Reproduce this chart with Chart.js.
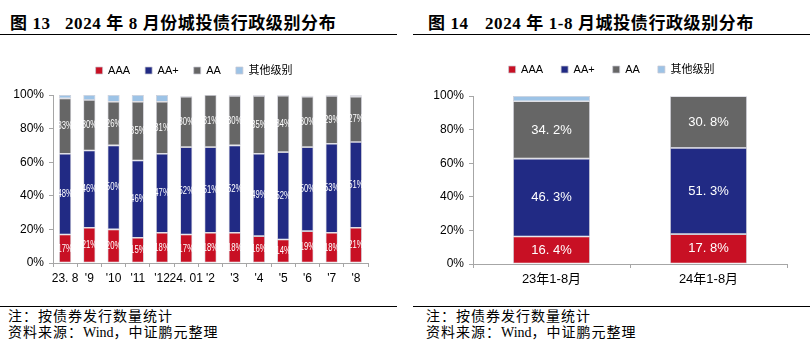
<!DOCTYPE html>
<html>
<head>
<meta charset="utf-8">
<script src="https://cdn.jsdelivr.net/npm/chart.js@4.4.1/dist/chart.umd.min.js"></script>
<style>
  body { margin: 0; width: 810px; height: 350px; background: #fff; position: relative; overflow: hidden; }
  .title { position: absolute; top: 9px; font: bold 17px "Liberation Serif", "Noto Sans CJK SC", serif; letter-spacing: 0.6px; color: #000; white-space: pre; }
  .rule { position: absolute; height: 0; border-top: 1.5px solid #000; }
  .note { position: absolute; font: 14px "Noto Sans CJK SC", sans-serif; letter-spacing: 1px; color: #000; white-space: pre; }
  .note .w { font-family: "Liberation Serif", serif; letter-spacing: 0; }
  canvas { position: absolute; }
</style>
</head>
<body>
<div class="title" style="left:10px">图 13</div>
<div class="title" style="left:65px">2024 年 8 月份城投债行政级别分布</div>
<div class="title" style="left:428px">图 14</div>
<div class="title" style="left:485px">2024 年 1-8 月城投债行政级别分布</div>
<div class="rule" style="left:0; width:397px; top:34px"></div>
<div class="rule" style="left:413px; width:397px; top:34px"></div>

<div style="position:absolute;left:0;top:40px;width:400px;height:262px"><canvas id="c1"></canvas></div>
<div style="position:absolute;left:410px;top:40px;width:400px;height:262px"><canvas id="c2"></canvas></div>

<div class="rule" style="left:0; width:397px; top:306px; border-top-width:1px"></div>
<div class="rule" style="left:413px; width:397px; top:306px; border-top-width:1px"></div>
<div class="note" style="left:8px; top:305px">注：按债券发行数量统计</div>
<div class="note" style="left:8px; top:321px">资料来源：<span class="w">Wind</span>，中证鹏元整理</div>
<div class="note" style="left:426px; top:305px">注：按债券发行数量统计</div>
<div class="note" style="left:426px; top:321px">资料来源：<span class="w">Wind</span>，中证鹏元整理</div>

<script>
const seriesNames = ['AAA', 'AA+', 'AA', '其他级别'];
const colors = ['rgb(200,16,36)', 'rgb(33,42,132)', 'rgb(102,102,102)', 'rgb(157,195,230)'];

// 图13 monthly
const months = ['23. 8', "'9", "'10", "'11", "'12", '24. 01', "'2", "'3", "'4", "'5", "'6", "'7", "'8"];
const mAAA = [17, 21, 20, 15, 18, 17, 18, 18, 16, 14, 19, 18, 21];
const mAAp = [48, 46, 50, 46, 47, 52, 51, 52, 49, 52, 50, 53, 51];
const mAA = [33, 30, 26, 35, 31, 30, 31, 29.5, 34.5, 33.6, 30, 28.5, 27];
const mOther = [2, 3, 4, 4, 4, 0.4, 0, 0.5, 0.5, 0.4, 0.6, 0.5, 0.8];

// 图14 Jan-Aug totals
const periods = ['23年1-8月', '24年1-8月'];
const pAAA = [16.4, 17.8];
const pAAp = [46.3, 51.3];
const pAA = [34.2, 30.8];
const pOther = [3.1, 0.1];

const barLabels = {
  id: 'barLabels',
  afterDatasetsDraw(chart, args, opts) {
    const ctx = chart.ctx;
    ctx.save();
    ctx.fillStyle = '#fff';
    ctx.font = opts.font;
    ctx.textAlign = 'center';
    ctx.textBaseline = 'middle';
    chart.data.datasets.forEach((ds, i) => {
      if (!ds.showLabel) return;
      chart.getDatasetMeta(i).data.forEach((bar, j) => {
        const yc = (bar.y + bar.base) / 2;
        ctx.save();
        ctx.translate(bar.x, yc);
        ctx.scale(opts.squeeze, 1);   // narrow face like the original
        ctx.fillText(opts.format(ds.data[j]), 0, 0);
        ctx.restore();
      });
    });
    ctx.restore();
  }
};

// give the legend extra room below it and nudge it sideways
const legendBox = {
  id: 'legendBox',
  beforeInit(chart, args, opts) {
    const lg = chart.legend;
    const fit = lg.fit;
    lg.fit = function () { fit.call(this); this.height += opts.extra; };
  },
  afterLayout(chart, args, opts) {
    chart.legend.left += opts.dx;
    chart.legend.right += opts.dx;
  }
};

function build(id, labels, arrays, o) {
  const datasets = arrays.map((d, i) => ({
    label: seriesNames[i],
    data: d,
    backgroundColor: colors[i],
    borderColor: 'rgba(200,200,210,0.9)',
    borderWidth: 0.8,
    borderSkipped: false,
    showLabel: i < 3,
    barPercentage: o.barPct,
    categoryPercentage: 1
  }));
  return new Chart(document.getElementById(id), {
    type: 'bar',
    data: { labels: labels, datasets: datasets },
    plugins: [barLabels, legendBox],
    options: {
      responsive: true,
      maintainAspectRatio: false,
      animation: false,
      layout: { padding: o.padding },
      plugins: {
        legend: {
          position: 'top',
          labels: {
            boxWidth: 7, boxHeight: 7, padding: o.legendPad,
            color: '#000',
            font: { size: 11, family: '"Liberation Sans", "Noto Sans CJK SC"' }
          }
        },
        legendBox: { extra: o.legendExtra, dx: o.legendDx },
        tooltip: { enabled: false },
        barLabels: { font: o.labelFont, format: o.format, squeeze: o.squeeze }
      },
      scales: {
        x: {
          stacked: true,
          afterFit(s) { s.height = 30; },
          border: { color: '#a6a6a6', width: 1 },
          grid: { display: true, offset: true, drawOnChartArea: false, drawTicks: true, tickLength: 4, color: '#a6a6a6' },
          ticks: { color: '#000', autoSkip: false, maxRotation: 0, padding: 4,
                   font: { size: o.xFont, family: '"Liberation Sans", "Noto Sans CJK SC"' } }
        },
        y: {
          stacked: true,
          min: 0, max: 100,
          afterFit(s) { s.width = o.yWidth; },
          border: { color: '#a6a6a6', width: 1 },
          grid: { display: true, drawOnChartArea: false, drawTicks: true, tickLength: 4, color: '#a6a6a6' },
          ticks: { stepSize: 20, color: '#000', padding: 5, callback: v => v + '%',
                   font: { size: 12, family: '"Liberation Sans"' } }
        }
      }
    }
  });
}

build('c1', months, [mAAA, mAAp, mAA, mOther], {
  barPct: 0.5, padding: { left: 0, right: 32, top: 10, bottom: 9 }, yWidth: 53,
  legendPad: 15, legendExtra: 9, legendDx: 10,
  labelFont: '11px "Liberation Sans"', squeeze: 0.7, format: v => Math.round(v) + '%',
  xFont: 12
});
build('c2', periods, [pAAA, pAAp, pAA, pOther], {
  barPct: 0.49, padding: { left: 0, right: 23, top: 6, bottom: 8 }, yWidth: 63,
  legendPad: 18, legendExtra: 11, legendDx: 13,
  labelFont: '13px "Liberation Sans"', squeeze: 1, format: v => v.toFixed(1).replace('.', '. ') + '%',
  xFont: 13
});
</script>
</body>
</html>
